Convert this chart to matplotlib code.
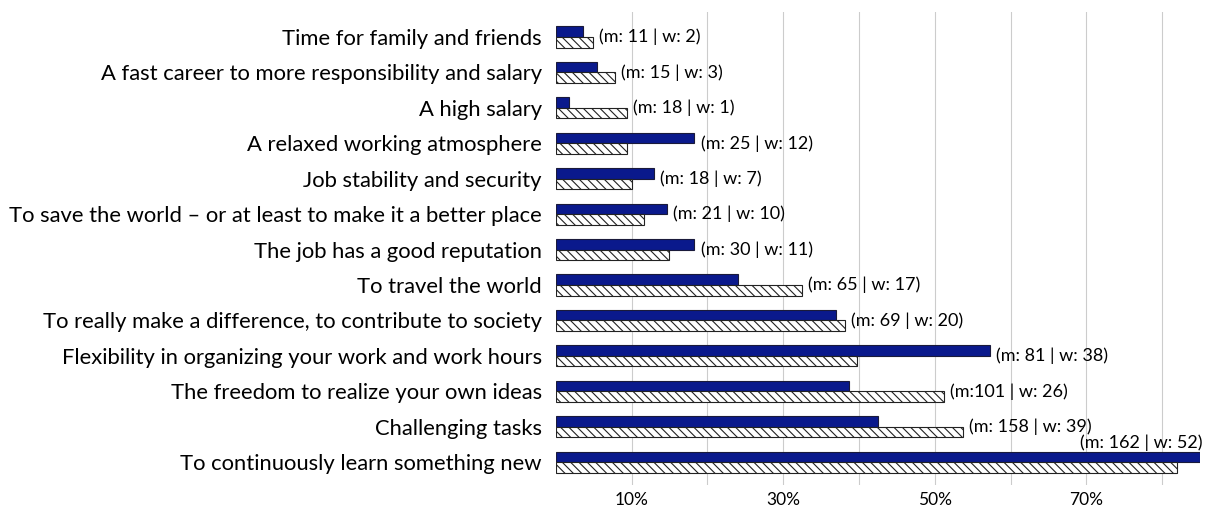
import numpy as np
import matplotlib
matplotlib.use('Agg')
import matplotlib.pyplot as plt

plt.rcParams['font.family'] = ['Lato', 'DejaVu Sans']
plt.rcParams['hatch.linewidth'] = 0.8

# categories, top to bottom
categories = [
    'Time for family and friends',
    'A fast career to more responsibility and salary',
    'A high salary',
    'A relaxed working atmosphere',
    'Job stability and security',
    'To save the world \u2013 or at least to make it a better place',
    'The job has a good reputation',
    'To travel the world',
    'To really make a difference, to contribute to society',
    'Flexibility in organizing your work and work hours',
    'The freedom to realize your own ideas',
    'Challenging tasks',
    'To continuously learn something new',
]
# share in percent
solid_vals = [3.6, 5.4, 1.7, 18.3, 12.9, 14.7, 18.3, 24.0, 37.0, 57.3, 38.7, 42.5, 85.0]
hatched_vals = [4.9, 7.8, 9.4, 9.4, 10.1, 11.6, 14.9, 32.5, 38.1, 39.8, 51.2, 53.7, 81.9]
count_labels = [
    '(m: 11 | w: 2)', '(m: 15 | w: 3)', '(m: 18 | w: 1)', '(m: 25 | w: 12)',
    '(m: 18 | w: 7)', '(m: 21 | w: 10)', '(m: 30 | w: 11)', '(m: 65 | w: 17)',
    '(m: 69 | w: 20)', '(m: 81 | w: 38)', '(m:101 | w: 26)', '(m: 158 | w: 39)',
    '(m: 162 | w: 52)',
]
x_max = 85

fig = plt.figure(figsize=(12.16, 5.07), dpi=100)
ax = fig.add_axes([0.457, 0.043, 0.530, 0.933])

y = np.arange(len(categories))
h = 0.3
ax.barh(y - h / 2, solid_vals, height=h, color='#0a198c', edgecolor='#1a1a3a', linewidth=0.8, zorder=3)
ax.barh(y + h / 2, hatched_vals, height=h, color='white', edgecolor='#222222', hatch='\\\\\\\\', linewidth=0.8, zorder=3)

# count labels right of the longer bar; above the bar if it runs to the edge
for i, lab in enumerate(count_labels):
    end = max(solid_vals[i], hatched_vals[i])
    if end > x_max - 5:
        ax.text(end + 0.3, i - h - 0.02, lab, ha='right', va='bottom', fontsize=13, zorder=4)
    else:
        ax.text(end + 0.8, i, lab, ha='left', va='center', fontsize=13, zorder=4)

ax.set_xlim(0, x_max)
ax.set_ylim(len(categories) - 0.35, -0.7)
ax.set_yticks(y)
ax.set_yticklabels(categories, fontsize=15.8)
ax.set_xticks([10, 30, 50, 70])
ax.set_xticklabels(['10%', '30%', '50%', '70%'], fontsize=12.5)
ax.set_xticks(np.arange(10, 90, 10), minor=True)
ax.tick_params(axis='both', which='both', length=0)
ax.tick_params(axis='y', pad=10)
ax.tick_params(axis='x', pad=5)
ax.grid(True, axis='x', which='both', color='#cccccc', linewidth=0.8, zorder=0)
for s in ax.spines.values():
    s.set_visible(False)

fig.savefig('out.png', dpi=100)
